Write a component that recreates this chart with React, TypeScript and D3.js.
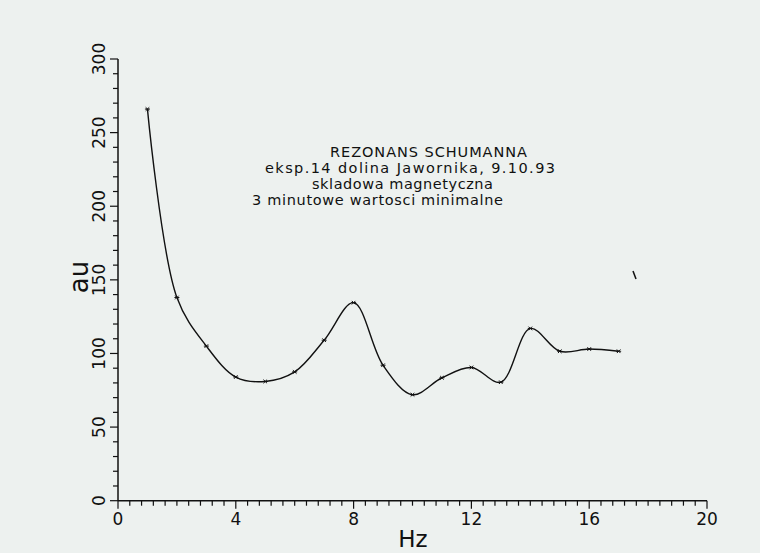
import React from "react";
import * as d3 from "d3";

const freqs = [1, 2, 3, 4, 5, 6, 7, 8, 9, 10, 11, 12, 13, 14, 15, 16, 17];
const amplitudes = [266, 138, 105, 84, 81, 87.5, 109, 134.5, 92, 72, 83.5, 90.5, 80.5, 117, 101.5, 103, 101.5];
const xTicks = [0, 4, 8, 12, 16, 20];
const yTicks = [0, 50, 100, 150, 200, 250, 300];
const titleLines = [
  { text: "REZONANS  SCHUMANNA", x: 330, y: 157, w: 197 },
  { text: "eksp.14  dolina  Jawornika,  9.10.93", x: 265, y: 173, w: 290 },
  { text: "skladowa  magnetyczna", x: 312, y: 189, w: 181 },
  { text: "3  minutowe  wartosci  minimalne", x: 252, y: 205, w: 251 },
];

const W = 760;
const H = 553;
const FONT = "'DejaVu Sans', 'Liberation Sans', sans-serif";

export default function App() {
  const x = d3.scaleLinear().domain([0, 20]).range([118, 707]);
  const y = d3.scaleLinear().domain([0, 300]).range([500.7, 59]);
  const pts: [number, number][] = freqs.map((f, i) => [x(f), y(amplitudes[i])]);
  const line = d3.line().curve(d3.curveCatmullRom.alpha(0.5))(pts) || "";
  const xMinor = d3.range(0, 20.001, 0.4);
  const yMinor = d3.range(0, 300.001, 10);
  const ink = "#111";
  return (
    <svg
      width={W}
      height={H}
      style={{ position: "fixed", left: 0, top: 0, background: "#edf1ef" }}
    >
      <rect x={0} y={0} width={W} height={H} fill="#edf1ef" />
      <line x1={x(0)} x2={x(20)} y1={y(0)} y2={y(0)} stroke={ink} strokeWidth={1.5} />
      <line x1={x(0)} x2={x(0)} y1={y(0)} y2={y(300)} stroke={ink} strokeWidth={1.5} />
      {xMinor.map((t, i) => {
        const major = Math.abs(t / 4 - Math.round(t / 4)) < 1e-6;
        return (
          <line key={"xm" + i} x1={x(t)} x2={x(t)} y1={y(0)} y2={y(0) + (major ? 8 : 5)} stroke={ink} strokeWidth={1.2} />
        );
      })}
      {yMinor.map((t, i) => {
        const major = t % 50 === 0;
        return (
          <line key={"ym" + i} x1={x(0) - (major ? 8 : 5)} x2={x(0)} y1={y(t)} y2={y(t)} stroke={ink} strokeWidth={1.2} />
        );
      })}
      {xTicks.map((t) => (
        <text key={"xt" + t} x={x(t)} y={525} textAnchor="middle" fontFamily={FONT} fontSize={17} fill={ink}>
          {t}
        </text>
      ))}
      {yTicks.map((t) => (
        <text
          key={"yt" + t}
          transform={`translate(105,${y(t)}) rotate(-90)`}
          textAnchor="middle"
          fontFamily={FONT}
          fontSize={17}
          fill={ink}
        >
          {t}
        </text>
      ))}
      <text transform={`translate(88,277) rotate(-90)`} textAnchor="middle" fontFamily={FONT} fontSize={26} fill={ink}>
        au
      </text>
      <text x={413} y={547} textAnchor="middle" fontFamily={FONT} fontSize={23} fill={ink}>
        Hz
      </text>
      {titleLines.map((l, i) => (
        <text key={"tl" + i} x={l.x} y={l.y} textLength={l.w} lengthAdjust="spacing" fontFamily={FONT} fontSize={14.5} fill={ink}>
          {l.text}
        </text>
      ))}
      <path d={line} fill="none" stroke={ink} strokeWidth={1.4} />
      {pts.map(([px, py], i) => (
        <g key={"m" + i} stroke={ink} strokeWidth={1}>
          <line x1={px - 2.5} x2={px + 2.5} y1={py} y2={py} />
          <line x1={px - 1.8} x2={px + 1.8} y1={py - 1.8} y2={py + 1.8} />
          <line x1={px - 1.8} x2={px + 1.8} y1={py + 1.8} y2={py - 1.8} />
        </g>
      ))}
      <line x1={633} x2={636} y1={271} y2={279} stroke={ink} strokeWidth={1.5} />
    </svg>
  );
}
